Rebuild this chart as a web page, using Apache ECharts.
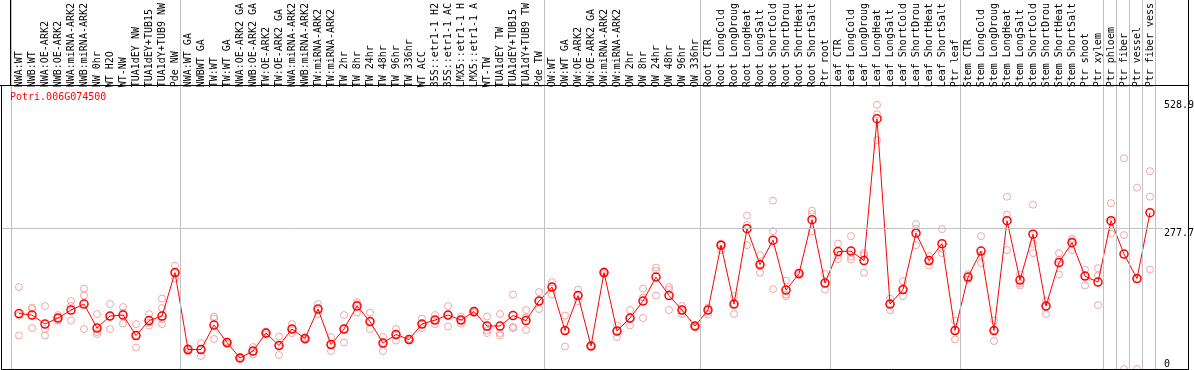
<!DOCTYPE html>
<html lang="en" style="height: 100%">
<head>
<meta charset="utf-8">
<title>Potri.006G074500</title>
</head>
<body style="height: 100%; margin: 0">
<div id="container" style="width: 1194px; height: 370px"></div>

<script type="text/javascript" src="https://cdn.jsdelivr.net/npm/echarts/dist/echarts.min.js"></script>

<script type="text/javascript">

const geneId = 'Potri.006G074500';

// sample names along the top
const samples = [
    'NWA:WT', 'NWB:WT', 'NWA:OE-ARK2', 'NWB:OE-ARK2', 'NWA:miRNA-ARK2', 'NWB:miRNA-ARK2',
    'NW 0hr', 'WT H2O', 'WT-NW', 'TUA1dEY NW', 'TUA1dEY+TUB15', 'TUA1dY+TUB9 NW', 'Pde NW',
    'NWA:WT GA', 'NWBWT GA', 'TW:WT', 'TW:WT GA', 'NWA:OE-ARK2 GA', 'NWB:OE-ARK2 GA',
    'TW:OE-ARK2', 'TW:OE-ARK2 GA', 'NWA:miRNA-ARK2', 'NWB:miRNA-ARK2', 'TW:miRNA-ARK2',
    'TW:miRNA-ARK2', 'TW 2hr', 'TW 8hr', 'TW 24hr', 'TW 48hr', 'TW 96hr', 'TW 336hr',
    'WT ACC', '35S::etr1-1 H2', '35S::etr1-1 AC', 'LMX5::etr1-1 H', 'LMX5::etr1-1 A',
    'WT-TW', 'TUA1dEY TW', 'TUA1dEY+TUB15', 'TUA1dY+TUB9 TW', 'Pde TW',
    'OW:WT', 'OW:WT GA', 'OW:OE-ARK2', 'OW:OE-ARK2 GA', 'OW:miRNA-ARK2', 'OW:miRNA-ARK2',
    'OW 2hr', 'OW 8hr', 'OW 24hr', 'OW 48hr', 'OW 96hr', 'OW 336hr',
    'Root CTR', 'Root LongCold', 'Root LongDroug', 'Root LongHeat', 'Root LongSalt',
    'Root ShortCold', 'Root ShortDrou', 'Root ShortHeat', 'Root ShortSalt', 'Ptr root',
    'Leaf CTR', 'Leaf LongCold', 'Leaf LongDroug', 'Leaf LongHeat', 'Leaf LongSalt',
    'Leaf ShortCold', 'Leaf ShortDrou', 'Leaf ShortHeat', 'Leaf ShortSalt', 'Ptr leaf',
    'Stem CTR', 'Stem LongCold', 'Stem LongDroug', 'Stem LongHeat', 'Stem LongSalt',
    'Stem ShortCold', 'Stem ShortDrou', 'Stem ShortHeat', 'Stem ShortSalt', 'Ptr shoot',
    'Ptr xylem', 'Ptr phloem', 'Ptr fiber', 'Ptr vessel', 'Ptr fiber vess'
];

// mean expression (red line)
const means = [
    111, 108, 90, 102, 118, 130, 82, 106, 108, 67, 97, 106, 193,
    39, 39, 88, 53, 22, 36, 72, 47, 80, 61, 120, 49, 80, 126, 95, 52, 69, 59,
    90, 98, 108, 98, 115, 86, 86, 107, 97, 136,
    164, 77, 147, 46, 193, 76, 102, 136, 184, 147, 118, 86,
    118, 248, 130, 281, 209, 258, 158, 191, 299, 172,
    235, 236, 217, 501, 130, 159, 272, 217, 251, 77,
    184, 236, 77, 297, 178, 270, 126, 213, 253, 186, 174,
    297, 230, 181, 313
];

// replicates (light circles)
const rep1 = [
    164, 123, 126, 108, 136, 161, 110, 130, 124, 90, 110, 141, 207,
    42, 52, 105, 55, 24, 44, 75, 65, 90, 63, 130, 64, 108, 134, 113, 64, 80, 61,
    101, 108, 126, 105, 117, 105, 110, 149, 118, 154,
    174, 107, 159, 47, 196, 87, 118, 161, 203, 164, 126, 87,
    123, 251, 146, 307, 228, 337, 177, 193, 317, 190,
    251, 266, 232, 528.9, 141, 176, 290, 226, 280, 97,
    190, 266, 97, 345, 189, 329, 136, 232, 261, 199, 202,
    332, 422, 363, 396
];
const rep2 = [
    107, 120, 80, 102, 126, 147, 74, 106, 113, 67, 93, 122, 192,
    39, 39, 101, 52, 22, 35, 72, 47, 80, 60, 120, 49, 80, 130, 95, 52, 69, 59,
    90, 98, 108, 98, 114, 77, 72, 84, 103, 136,
    164, 77, 147, 46, 193, 76, 102, 143, 197, 159, 118, 85,
    118, 248, 130, 288, 209, 276, 149, 191, 310, 172,
    228, 225, 228, 510, 130, 159, 281, 217, 241, 77,
    184, 228, 77, 309, 171, 251, 126, 219, 257, 186, 187,
    294, 268, 180, 345
];
const rep3 = [
    67, 82, 67, 97, 97, 80, 70, 80, 91, 43, 87, 90, 182,
    35, 26, 60, 50, 20, 29, 69, 28, 72, 58, 110, 36, 53, 113, 80, 36, 57, 57,
    82, 90, 85, 91, 112, 72, 67, 82, 78, 120,
    149, 45, 136, 45, 190, 64, 87, 102, 147, 118, 110, 84,
    109, 238, 110, 248, 193, 160, 146, 188, 276, 159,
    220, 219, 193, 458, 118, 146, 248, 207, 232, 59,
    179, 212, 56, 238, 167, 232, 110, 189, 238, 167, 128,
    271, 0, 0, 199
];
const rep4 = [
    null, null, null, null, null, null, null, null, null, null, null, 100, null
];

// group borders, as category index boundaries
const groupEdges = [0, 13, 41, 53, 63, 73, 84, 85, 86, 87, 88];

// values written on the right side
const yTicks = [528.9, 277.7, 0];
const yMax = 560;

var dom = document.getElementById('container');
var myChart = echarts.init(dom);

const monoFont = 'DejaVu Sans Mono';
const gridGray = '#c0c0c0';
const repColor = '#ee9090';

function toPoints(values) {
    const pts = [];
    values.forEach(function (v, i) {
        if (v != null) pts.push([i, v]);
    });
    return pts;
}

const repSeries = [rep1, rep2, rep3, rep4].map(function (r) {
    return {
        type: 'scatter',
        xAxisIndex: 0,
        yAxisIndex: 0,
        data: toPoints(r),
        symbol: 'circle',
        symbolSize: 7,
        silent: true,
        itemStyle: { color: 'rgba(0,0,0,0)', borderColor: repColor, borderWidth: 1 },
        z: 2
    };
});

var option = {
    animation: false,
    grid: [
        { left: 12.5, right: 37.5, top: 85, bottom: 1 },
        { left: 1, right: 31, top: 85, bottom: 1 },
        { left: 11, right: 39, top: 0, bottom: 0 }
    ],
    xAxis: [
        {
            type: 'category',
            gridIndex: 0,
            position: 'top',
            data: samples,
            boundaryGap: true,
            axisLine: { show: false },
            axisTick: { show: false },
            splitLine: { show: false },
            axisLabel: {
                interval: 0,
                rotate: 90,
                margin: 2,
                fontFamily: monoFont,
                fontSize: 10,
                color: '#000'
            }
        },
        { type: 'value', gridIndex: 1, min: 0, max: 1, show: false },
        { type: 'value', gridIndex: 2, min: 0, max: samples.length, show: false }
    ],
    yAxis: [
        { type: 'value', gridIndex: 0, min: 0, max: yMax, show: false },
        { type: 'value', gridIndex: 1, min: 0, max: yMax, show: false },
        { type: 'value', gridIndex: 2, min: 0, max: 1, show: false }
    ],
    graphic: [
        {
            type: 'rect', z: 100, silent: true,
            shape: { x: 1.5, y: 85.5, width: 1187, height: 284 },
            style: { fill: null, stroke: '#000', lineWidth: 1 }
        },
        {
            type: 'line', z: 100, silent: true,
            shape: { x1: 0, y1: 85.5, x2: 1188.5, y2: 85.5 },
            style: { stroke: '#000', lineWidth: 1 }
        },
        {
            type: 'line', z: 100, silent: true,
            shape: { x1: 10.5, y1: 0, x2: 10.5, y2: 85.5 },
            style: { stroke: '#000', lineWidth: 1 }
        },
        {
            type: 'line', z: 100, silent: true,
            shape: { x1: 1188.5, y1: 0, x2: 1188.5, y2: 370 },
            style: { stroke: '#000', lineWidth: 1 }
        },
        {
            type: 'text', z: 100, left: 10, top: 92, silent: true,
            style: { text: geneId, fill: '#ff0000', font: '10px "DejaVu Sans Mono"' }
        }
    ],
    series: repSeries.concat([
        {
            type: 'line',
            xAxisIndex: 0,
            yAxisIndex: 0,
            data: means,
            symbol: 'circle',
            symbolSize: 8,
            showAllSymbol: true,
            silent: true,
            lineStyle: { color: '#ff0000', width: 1 },
            itemStyle: { color: 'rgba(0,0,0,0)', borderColor: '#ff0000', borderWidth: 1.5 },
            z: 3
        },
        {
            // reference line and value labels on the right
            type: 'line',
            xAxisIndex: 1,
            yAxisIndex: 1,
            data: [],
            markLine: {
                silent: true,
                symbol: ['none', 'none'],
                data: yTicks.map(function (v) {
                    return {
                        yAxis: v,
                        lineStyle: {
                            color: v === yTicks[1] ? gridGray : 'rgba(0,0,0,0)',
                            type: 'solid',
                            width: 1
                        },
                        label: {
                            show: true,
                            position: 'end',
                            distance: 1,
                            formatter: String(v),
                            color: '#000',
                            fontFamily: monoFont,
                            fontSize: 10,
                            align: 'left',
                            verticalAlign: v === 0 ? 'bottom' : 'top'
                        }
                    };
                })
            },
            z: 1
        },
        {
            // group separators
            type: 'line',
            xAxisIndex: 2,
            yAxisIndex: 2,
            data: [],
            markLine: {
                silent: true,
                symbol: ['none', 'none'],
                label: { show: false },
                lineStyle: { color: gridGray, type: 'solid', width: 1 },
                data: groupEdges.map(function (e) { return { xAxis: e }; })
            },
            z: 1
        }
    ])
};

if (option && typeof option === 'object') {
    myChart.setOption(option);
}

window.addEventListener('resize', myChart.resize);
</script>
</body>
</html>
